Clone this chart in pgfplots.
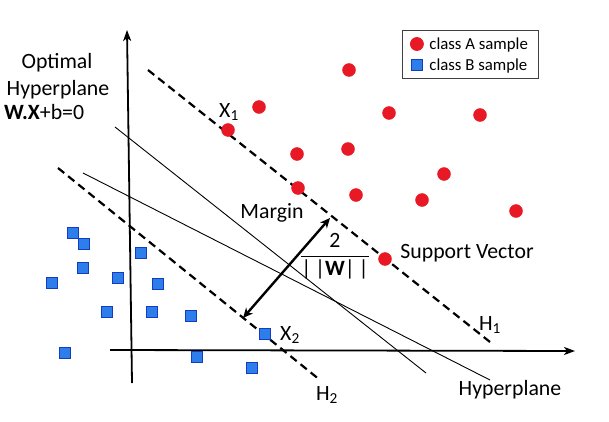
\documentclass[border=0pt]{standalone}
\usepackage{fontspec}
\setmainfont{Carlito}
\usepackage{pgfplots}
\pgfplotsset{compat=1.18}
\usetikzlibrary{arrows.meta}

\definecolor{classA}{RGB}{232,24,36}
\definecolor{classBfill}{RGB}{45,125,235}
\definecolor{classBedge}{RGB}{20,60,190}

% coordinates are image pixels, y counted from the bottom
\pgfplotstableread{
x y
228 291
259 314
349 351
389 308
480 306
297 267
348 272
298 233
356 226
444 247
422 221
516 210
385 162
}\classA

\pgfplotstableread{
x y
73 188
84 177
141 168
83 153
52 138
118 143
158 137
107 109
152 109
191 105
265 87
65 68
197 64
252 53
}\classB

\newcommand{\bigfont}{\fontsize{21.8}{25}\selectfont}

\begin{document}
\begin{tikzpicture}
\begin{axis}[
    scale only axis,
    width=609pt, height=421pt,
    xmin=0, xmax=609, ymin=0, ymax=421,
    axis lines=none,
    axis background/.style={fill=white},
    clip=false,
    legend style={at={(0.6601,0.9287)}, anchor=north west,
      draw=black!75, line width=0.8pt,
      font=\fontsize{16.8}{19}\selectfont,
      inner xsep=8pt, inner ysep=5pt, row sep=4pt,
      /tikz/every odd column/.append style={column sep=4pt}},
    legend image code/.code={\draw[#1] plot coordinates {(6pt,0pt)};},
    legend cell align=left,
  ]
% coordinate axes
\addplot[forget plot, black, line width=1.8pt,
  -{Stealth[length=11pt,width=8pt,inset=3pt]}] coordinates {(132,38) (127,391)};
\addplot[forget plot, black, line width=1.8pt,
  -{Stealth[length=11pt,width=8pt,inset=3pt]}] coordinates {(110,71) (575,70)};
% margins H1, H2
\addplot[forget plot, black, line width=2.2pt, dash pattern=on 8pt off 5pt]
  coordinates {(148,351) (490,79)};
\addplot[forget plot, black, line width=2.2pt, dash pattern=on 8pt off 5pt]
  coordinates {(58,253) (320,41)};
% candidate hyperplanes
\addplot[forget plot, black, line width=0.9pt] coordinates {(115,294) (426,48)};
\addplot[forget plot, black, line width=0.9pt] coordinates {(83,248) (490,41)};
% margin arrow
\addplot[forget plot, black, line width=2.4pt,
  {Stealth[length=10pt,width=9pt]}-{Stealth[length=10pt,width=9pt]}]
  coordinates {(243,103) (330,203)};
% samples
\addplot[only marks, mark=*, mark size=6.5pt, color=classA,
  mark options={fill=classA, draw=classA}] table {\classA};
\addlegendentry{class A sample}
\addplot[only marks, mark=square*, mark size=5.3pt, color=classBedge,
  mark options={fill=classBfill, draw=classBedge, line width=1.2pt}] table {\classB};
\addlegendentry{class B sample}

% labels
\node[font=\bigfont] at (axis cs:57,358) {Optimal};
\node[font=\bigfont] at (axis cs:58,331) {Hyperplane};
\node[font=\bigfont, anchor=west, inner sep=0pt] at (axis cs:4,309) {\textbf{W.X}+b=0};
\node[font=\bigfont] at (axis cs:229,309) {X\textsubscript{1}};
\node[font=\bigfont] at (axis cs:290,86) {X\textsubscript{2}};
\node[font=\bigfont] at (axis cs:272,208) {Margin};
\node[font=\bigfont] at (axis cs:335,165)
  {$\displaystyle\frac{\mbox{2}}{\mbox{|\,|\textbf{W}|\,|}}$};
\node[font=\bigfont] at (axis cs:467,168) {Support Vector};
\node[font=\bigfont] at (axis cs:490,96) {H\textsubscript{1}};
\node[font=\bigfont] at (axis cs:327,26) {H\textsubscript{2}};
\node[font=\bigfont] at (axis cs:510,31) {Hyperplane};
\end{axis}
\end{tikzpicture}
\end{document}
